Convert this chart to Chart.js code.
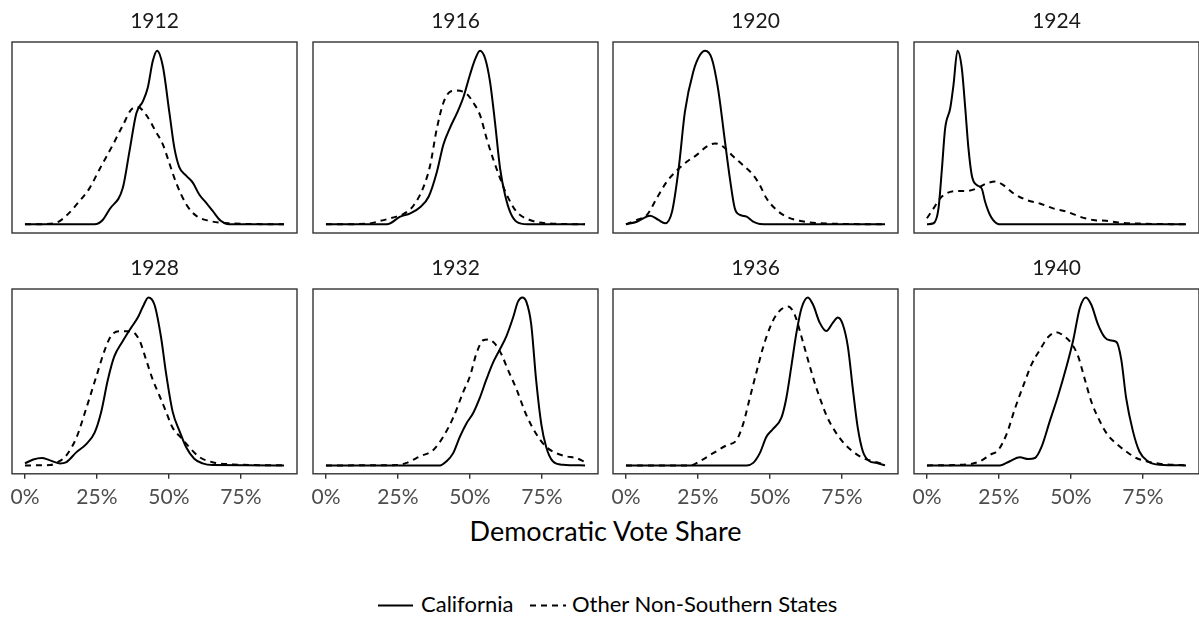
<!DOCTYPE html>
<html><head><meta charset="utf-8">
<script src="https://cdn.jsdelivr.net/npm/chart.js@4/dist/chart.umd.min.js"></script>
<style>
html,body{margin:0;padding:0;background:#fff;}
body{width:1199px;height:619px;position:relative;overflow:hidden;font-family:Lato,sans-serif;}
canvas.panel{position:absolute;}
#xtitle{position:absolute;left:12px;width:1187px;top:515px;text-align:center;font-size:27px;line-height:1.2;color:#000;white-space:nowrap;}
.lg{position:absolute;top:591px;height:27px;font-size:22px;line-height:1.2;color:#000;white-space:nowrap;}
svg.lg{height:27px;}
</style>
</head><body>
<div id="xtitle">Democratic Vote Share</div>
<svg class="lg" style="left:378px" width="35" height="27"><line x1="0" y1="14.5" x2="35" y2="14.5" stroke="#000" stroke-width="2"/></svg>
<span class="lg" style="left:421px">California</span>
<svg class="lg" style="left:530px" width="36" height="27"><line x1="0" y1="14.5" x2="36" y2="14.5" stroke="#000" stroke-width="2" stroke-dasharray="6 5"/></svg>
<span class="lg" style="left:572px">Other Non-Southern States</span>
<script>
// ---- data (x = Democratic vote share, y = relative density) ----
const years = ['1912','1916','1920','1924','1928','1932','1936','1940'];
const xTicks = [0, 0.25, 0.5, 0.75];

const cal1912 = [[0,0],[0.242,0],[0.27,2.5],[0.294,8.7],[0.34,21],[0.363,42],[0.387,64],[0.41,71],[0.427,79],[0.444,94],[0.459,100],[0.479,91],[0.502,64],[0.519,44],[0.536,33],[0.56,28],[0.583,24],[0.606,17],[0.629,12.5],[0.652,7.7],[0.68,2],[0.71,0],[0.9,0]];
const oth1912 = [[0,0],[0.06,0.1],[0.11,1],[0.144,5],[0.19,13.5],[0.225,21],[0.26,32],[0.306,46],[0.34,57],[0.375,67],[0.392,67.5],[0.421,63],[0.456,53],[0.479,46],[0.502,35],[0.525,24],[0.56,11.6],[0.594,5],[0.64,2],[0.72,0.5],[0.9,0]];

const cal1916 = [[0,0],[0.212,0],[0.258,4.4],[0.293,6.3],[0.328,10],[0.357,16],[0.385,30],[0.408,46],[0.432,56],[0.455,64],[0.478,73.5],[0.5,86],[0.518,95],[0.535,100],[0.553,95.5],[0.57,82],[0.587,59],[0.605,32],[0.622,17],[0.64,7],[0.662,1.5],[0.7,0],[0.9,0]];
const oth1916 = [[0,0],[0.143,0.3],[0.19,2],[0.235,4],[0.27,6],[0.305,11],[0.34,22],[0.362,34],[0.385,55],[0.408,70],[0.432,76.4],[0.455,77],[0.49,75],[0.512,70],[0.535,63],[0.558,49.5],[0.58,38],[0.605,26.5],[0.628,17],[0.662,7.3],[0.708,2.5],[0.766,0.6],[0.9,0]];

const cal1920 = [[0,0],[0.038,1.5],[0.084,5],[0.113,2.5],[0.136,0.6],[0.16,7.3],[0.183,32],[0.205,65],[0.234,88],[0.257,97.5],[0.275,100],[0.298,95.5],[0.32,78],[0.344,47.6],[0.361,26.5],[0.378,9.2],[0.396,5.4],[0.419,4.4],[0.442,1.5],[0.465,0.2],[0.5,0],[0.9,0]];
const oth1920 = [[0,0],[0.038,2.5],[0.073,5.4],[0.107,15],[0.142,24.6],[0.177,31],[0.211,36],[0.246,40],[0.28,44.7],[0.309,46.6],[0.338,44.7],[0.373,39],[0.407,34],[0.442,28.4],[0.465,22.6],[0.488,15],[0.523,8.3],[0.557,4.4],[0.603,2],[0.673,0.6],[0.9,0]];

const cal1924 = [[0,0],[0.023,0.6],[0.04,9],[0.052,32],[0.063,55],[0.081,67],[0.092,80],[0.106,100],[0.121,90],[0.133,67],[0.144,44],[0.156,28],[0.173,22.6],[0.19,20.7],[0.202,13],[0.219,5.4],[0.242,0.6],[0.26,0],[0.9,0]];
const oth1924 = [[0,3.5],[0.023,9.2],[0.046,15],[0.069,17.9],[0.104,19.2],[0.138,19.2],[0.173,20.7],[0.208,23.6],[0.237,24.6],[0.265,22.6],[0.3,17.9],[0.346,14],[0.392,12],[0.438,9.2],[0.485,7.3],[0.531,4.4],[0.577,2.5],[0.623,2],[0.67,1],[0.74,0.4],[0.9,0]];

const cal1928 = [[0,1.2],[0.029,3.5],[0.058,4.4],[0.087,3],[0.121,1.2],[0.144,2],[0.179,7.9],[0.213,12.7],[0.242,19.5],[0.265,32],[0.288,51],[0.31,64.7],[0.34,74],[0.369,82],[0.392,88],[0.41,94.6],[0.429,100],[0.45,95.6],[0.473,76],[0.49,55],[0.513,32],[0.537,20.4],[0.56,10.8],[0.588,4],[0.617,1.2],[0.652,0.2],[0.9,0]];
const oth1928 = [[0,0],[0.087,0.2],[0.115,2],[0.144,6],[0.179,16.6],[0.213,34],[0.248,53],[0.277,68.6],[0.3,77.3],[0.329,79.8],[0.369,79.8],[0.398,74.4],[0.421,62.8],[0.444,51],[0.467,41.6],[0.49,32],[0.513,22.4],[0.542,16.6],[0.571,10.8],[0.606,5],[0.652,1.9],[0.721,0.6],[0.9,0]];

const cal1932 = [[0,0],[0.396,0],[0.419,2.5],[0.442,7.3],[0.465,17],[0.488,25],[0.511,31],[0.534,40],[0.557,51],[0.58,61],[0.603,68.7],[0.627,77],[0.65,88],[0.667,97.5],[0.682,100],[0.696,97.5],[0.713,84],[0.73,51],[0.748,24.6],[0.765,11],[0.788,2.5],[0.823,0.4],[0.9,0]];
const oth1932 = [[0,0],[0.246,0.2],[0.28,1.5],[0.327,5.4],[0.373,9.2],[0.407,17],[0.442,28.4],[0.477,43.8],[0.5,53],[0.523,66.8],[0.546,74.5],[0.563,75],[0.586,72.6],[0.61,66],[0.632,57],[0.661,45.7],[0.696,30],[0.73,18.8],[0.765,11],[0.8,7.3],[0.834,5.4],[0.869,4.4],[0.9,2]];

const cal1936 = [[0,0],[0.419,0],[0.442,1.5],[0.465,7.3],[0.488,17],[0.511,21.7],[0.54,28.4],[0.557,40],[0.575,59.5],[0.592,78.7],[0.61,93.7],[0.632,100],[0.65,95.6],[0.673,85],[0.696,80],[0.719,85],[0.736,88],[0.753,84],[0.771,70.6],[0.788,45.7],[0.805,22.6],[0.823,8.3],[0.846,2.5],[0.869,1.5],[0.9,0]];
const oth1936 = [[0,0],[0.223,0],[0.257,2.5],[0.303,7.3],[0.35,12],[0.384,15],[0.407,24.6],[0.43,40],[0.453,55.3],[0.477,70.6],[0.5,82],[0.523,89.8],[0.546,93.7],[0.563,94.6],[0.586,89.8],[0.61,76.4],[0.632,63],[0.655,49.5],[0.678,38],[0.7,28.4],[0.725,20.7],[0.753,14],[0.788,8.3],[0.823,4.4],[0.857,2.5],[0.9,0.6]];

const cal1940 = [[0,0],[0.254,0],[0.288,2.5],[0.323,4.8],[0.352,3.8],[0.375,4.4],[0.398,11],[0.427,26.5],[0.456,41.8],[0.485,59],[0.508,74.5],[0.531,93.7],[0.552,100],[0.571,95.6],[0.594,84],[0.617,76.4],[0.635,74.5],[0.658,73.5],[0.675,63],[0.692,40],[0.715,20.7],[0.738,8.3],[0.767,2.5],[0.808,0.4],[0.9,0]];
const oth1940 = [[0,0],[0.138,0.6],[0.185,2.5],[0.219,6.3],[0.248,9.2],[0.277,18.8],[0.306,34],[0.335,47.6],[0.363,60],[0.392,68.7],[0.421,76.4],[0.45,79.3],[0.473,77.4],[0.502,72.6],[0.525,65],[0.548,51.4],[0.571,38],[0.6,26.5],[0.629,17.9],[0.658,13],[0.692,8.3],[0.727,4.4],[0.762,2.5],[0.808,1],[0.9,0]];

const californiaSeries = [cal1912, cal1916, cal1920, cal1924, cal1928, cal1932, cal1936, cal1940];
const otherSeries = [oth1912, oth1916, oth1920, oth1924, oth1928, oth1932, oth1936, oth1940];

// ---- layout ----
const boxLefts = [12, 313, 613, 914];
const boxW = 285, boxH = 191;
const rowTops = [42, 289];
const PAD = 12, TITLE_BLOCK = 33;
const FONT_SIZE = 21;
const TICK_LEN = 5, TICK_PAD = 6;
const X_MIN = -0.045, X_MAX = 0.945;

Chart.defaults.font.family = 'Lato';

const boxPlugin = {
  id: 'panelBox',
  afterDatasetsDraw(chart) {
    const {ctx, chartArea: a} = chart;
    ctx.save();
    ctx.strokeStyle = '#333333';
    ctx.lineWidth = 1.4;
    ctx.strokeRect(a.left, a.top, a.right - a.left, a.bottom - a.top);
    ctx.restore();
  }
};

const toXY = arr => arr.map(([x, y]) => ({x, y}));

years.forEach((yr, i) => {
  const row = Math.floor(i / 4), col = i % 4;
  const bottomRow = row === 1;
  const axisH = bottomRow ? Math.round(TICK_LEN + TICK_PAD + FONT_SIZE * 1.2) : 3;
  const cv = document.createElement('canvas');
  cv.className = 'panel';
  const w = boxW + 2 * PAD, h = TITLE_BLOCK + boxH + axisH;
  cv.width = w; cv.height = h;
  cv.style.width = w + 'px'; cv.style.height = h + 'px';
  cv.style.left = (boxLefts[col] - PAD) + 'px';
  cv.style.top = (rowTops[row] - TITLE_BLOCK) + 'px';
  document.body.appendChild(cv);

  const ca = californiaSeries[i], ot = otherSeries[i];
  const m = Math.max(...ca.map(p => p[1]), ...ot.map(p => p[1]));

  new Chart(cv, {
    type: 'line',
    data: {
      datasets: [
        {label: 'California', data: toXY(ca), borderColor: '#000', borderWidth: 2, pointRadius: 0, cubicInterpolationMode: 'monotone', fill: false},
        {label: 'Other Non-Southern States', data: toXY(ot), borderColor: '#000', borderWidth: 2, borderDash: [6, 5], pointRadius: 0, cubicInterpolationMode: 'monotone', fill: false}
      ]
    },
    options: {
      responsive: false,
      devicePixelRatio: 1,
      animation: false,
      events: [],
      layout: {padding: {left: PAD, right: PAD, top: 0, bottom: bottomRow ? 0 : 3}},
      plugins: {
        legend: {display: false},
        tooltip: {enabled: false},
        title: {display: true, text: yr, color: '#1a1a1a', font: {family: 'Lato', size: FONT_SIZE, weight: 'normal', lineHeight: 1.2}, padding: {top: 0, bottom: TITLE_BLOCK - FONT_SIZE * 1.2}}
      },
      scales: {
        x: {
          type: 'linear', min: X_MIN, max: X_MAX,
          display: bottomRow,
          afterBuildTicks: s => { s.ticks = xTicks.map(v => ({value: v})); },
          ticks: {callback: v => Math.round(v * 100) + '%', color: '#4d4d4d', font: {family: 'Lato', size: FONT_SIZE, lineHeight: 1.2}, padding: TICK_PAD, maxRotation: 0, autoSkip: false},
          grid: {display: true, drawOnChartArea: false, drawTicks: true, tickLength: TICK_LEN, color: '#333333', lineWidth: 1.4},
          border: {display: false}
        },
        y: {type: 'linear', min: -0.05 * m, max: 1.05 * m, display: false}
      }
    },
    plugins: [boxPlugin]
  });
});
</script>
</body></html>
